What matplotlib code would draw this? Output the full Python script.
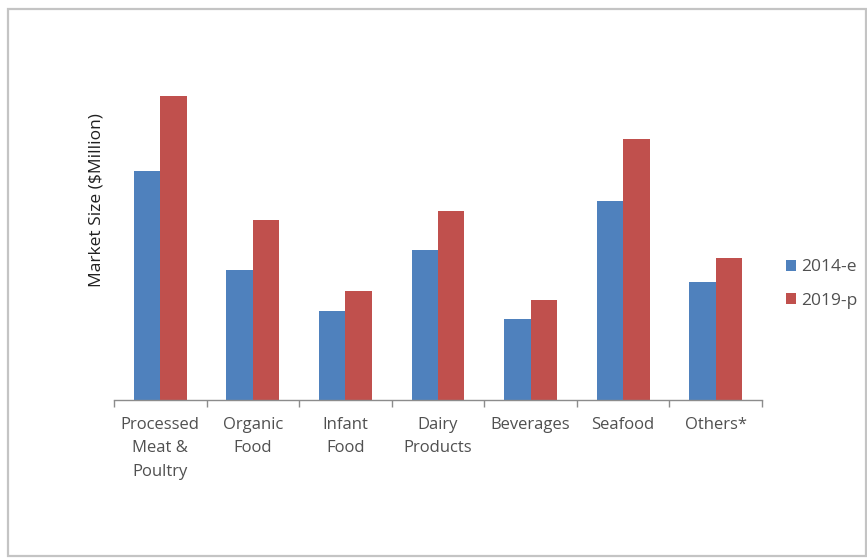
import matplotlib.pyplot as plt
import numpy as np
from matplotlib.patches import Rectangle

categories = ["Processed\nMeat &\nPoultry", "Organic\nFood", "Infant\nFood",
              "Dairy\nProducts", "Beverages", "Seafood", "Others*"]
values_2014 = [229, 130, 89, 150, 81, 199, 118]
values_2019 = [304, 180, 109, 189, 100, 261, 142]
series_labels = ["2014-e", "2019-p"]

BLUE = "#4F81BD"
RED = "#C0504D"

plt.rcParams["font.family"] = ["Open Sans", "DejaVu Sans"]

fig = plt.figure(figsize=(8.67, 5.58), dpi=100)
ax = fig.add_axes([114 / 867, 1 - 400 / 558, (762 - 114) / 867, (400 - 60) / 558])

x = np.arange(len(categories))
w = 0.286
b1 = ax.bar(x - w / 2, values_2014, width=w, color=BLUE, label=series_labels[0])
b2 = ax.bar(x + w / 2, values_2019, width=w, color=RED, label=series_labels[1])

ax.set_xlim(-0.5, len(categories) - 0.5)
ax.set_ylim(0, 340)
ax.set_yticks([])
for s in ["top", "right", "left"]:
    ax.spines[s].set_visible(False)
ax.spines["bottom"].set_color("#8c8c8c")
ax.spines["bottom"].set_linewidth(1.0)

ax.set_xticks(x)
ax.set_xticklabels(categories, fontsize=12, color="#505050", linespacing=1.65)
ax.tick_params(axis="x", which="major", length=0, pad=12)
ax.set_xticks(np.arange(-0.5, len(categories)), minor=True)
ax.tick_params(axis="x", which="minor", length=5, color="#8c8c8c", width=1.0)

# label anchored at its right edge (rotated text)
ax.set_ylabel("Market Size ($Million)", fontsize=12.5, color="#202020")
ax.yaxis.set_label_coords((105 - 114) / 648, (400 - 200) / 340)

fig.legend(handles=[b1, b2], loc="center left", bbox_to_anchor=(770 / 867, 1 - 284 / 558),
           frameon=False, fontsize=12.5, handlelength=0.6, handleheight=0.6,
           handletextpad=0.3, labelspacing=1.0, labelcolor="#505050")

fig.patches.append(Rectangle((8 / 867, 1 - 556 / 558), (866 - 8) / 867, (556 - 9) / 558,
                             transform=fig.transFigure, fill=False,
                             edgecolor="#c4c4c4", linewidth=1.6))

fig.savefig("out.png", dpi=100)
